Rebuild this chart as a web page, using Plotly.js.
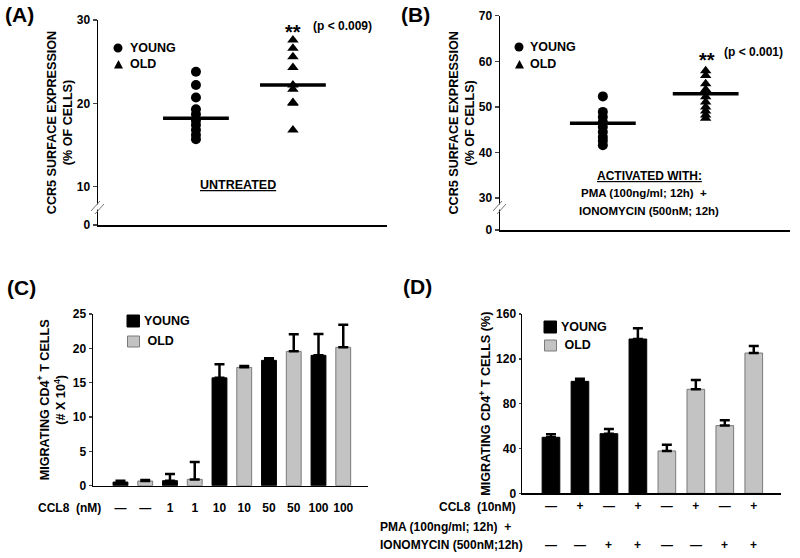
<!DOCTYPE html>
<html><head><meta charset="utf-8">
<script src="https://cdn.plot.ly/plotly-3.0.1.min.js"></script>
<style>html,body{margin:0;padding:0;background:#fff}</style>
</head><body><div id="chart" style="width:800px;height:558px"></div>
<script>
// ---------- DATA ----------
const groupsAB = ['YOUNG', 'OLD'];
// Panel A (untreated) CCR5 surface expression, % of cells
const youngA = [23.8, 22.2, 20.7, 19.3, 18.7, 17.9, 17.4, 16.8, 16.2, 15.7];
const oldA = [27.6, 26.6, 25.6, 24.3, 22.2, 21.7, 20.1, 20.0, 16.8];
const medianA = [18.2, 22.2];
const yTickLabelsA = ['0', '10', '20', '30'];
// Panel B (PMA + ionomycin)
const youngB = [52.3, 48.9, 47.8, 46.7, 45.6, 44.5, 43.4, 42.6, 41.6];
const oldB = [57.9, 56.9, 55.1, 53.8, 52.2, 51.1, 50.0, 49.1, 48.2, 47.5];
const medianB = [46.4, 52.9];
const yTickLabelsB = ['0', '30', '40', '50', '60', '70'];
// Panel C migration (# x 10^4)
const ccl8Labels = ['—', '—', '1', '1', '10', '10', '50', '50', '100', '100'];
const youngC = [0.53, 0.73, 15.7, 18.25, 18.98];
const youngCErr = [0.2, 0.97, 2.0, 0.3, 3.1];
const oldC = [0.68, 0.92, 17.23, 19.56, 20.15];
const oldCErr = [0.15, 2.53, 0.2, 2.48, 3.3];
// Panel D migration (%)
const ccl8Signs = ['—', '+', '—', '+', '—', '+', '—', '+'];
const pmaSigns = ['—', '—', '+', '+', '—', '—', '+', '+'];
const youngD = [50.0, 99.9, 53.2, 137.7];
const youngDErr = [2.6, 2.4, 4.2, 9.5];
const oldD = [37.8, 92.8, 60.4, 125.2];
const oldDErr = [5.6, 8.3, 4.7, 6.3];

// ---------- LAYOUT HELPERS ----------
const W = 800, H = 558;
const px = x => x / W;
const py = y => 1 - y / H;
const FONT = 'Liberation Sans, Arial, Helvetica, sans-serif';
const GRAY = '#c3c3c3', GRAYLINE = '#7a7a7a';
const breakA = 5.4, breakB = 23.0;

const zerosLike = a => a.map(() => 0);
const scatterGroup = (vals, name, symbol, xa, ya) => ({
  type: 'scatter', mode: 'markers', x: vals.map(() => name), y: vals,
  xaxis: xa, yaxis: ya, showlegend: false,
  marker: {symbol: symbol, size: 10, color: 'black'}
});
const medianTrace = (med, xa, ya) => ({
  type: 'scatter', mode: 'markers', x: groupsAB, y: med, xaxis: xa, yaxis: ya, showlegend: false,
  marker: {symbol: 'line-ew', size: 47, color: 'black', line: {width: 3.5, color: 'black'}}
});
const barTrace = (xs, vals, errs, color, line, xa, ya, width) => ({
  type: 'bar', x: xs, y: vals, xaxis: xa, yaxis: ya, width: width, showlegend: false,
  marker: {color: color, line: {color: line, width: 1}},
  error_y: {type: 'data', symmetric: false, array: errs, arrayminus: zerosLike(errs),
            color: 'black', thickness: 2.5, width: 5}
});

const traces = [
  scatterGroup(youngA, 'YOUNG', 'circle', 'x', 'y'),
  scatterGroup(oldA, 'OLD', 'triangle-up', 'x', 'y'),
  medianTrace(medianA, 'x', 'y'),
  scatterGroup(youngB, 'YOUNG', 'circle', 'x2', 'y2'),
  scatterGroup(oldB, 'OLD', 'triangle-up', 'x2', 'y2'),
  medianTrace(medianB, 'x2', 'y2'),
  barTrace(youngC.map((_, i) => 2 * i), youngC, youngCErr, 'black', 'black', 'x3', 'y3', 0.6),
  barTrace(oldC.map((_, i) => 2 * i + 1), oldC, oldCErr, GRAY, GRAYLINE, 'x3', 'y3', 0.6),
  barTrace(youngD.map((_, i) => i), youngD, youngDErr, 'black', 'black', 'x4', 'y4', 0.61),
  barTrace(oldD.map((_, i) => youngD.length + i), oldD, oldDErr, GRAY, GRAYLINE, 'x4', 'y4', 0.61)
];

const axBase = {showline: true, linecolor: 'black', linewidth: 1.5, zeroline: false, showgrid: false,
                fixedrange: true};
const yTitleFont = {family: FONT, size: 12.6, weight: 'bold', color: 'black'};
const tickFontY = {family: FONT, size: 12, weight: 'bold', color: 'black'};
const tickFontX = {family: FONT, size: 12, weight: 'bold', color: 'black'};

const ann = (text, x, y, size, xanchor, extra) => Object.assign({
  text: text, x: x, y: y, xref: 'paper', yref: 'paper', showarrow: false,
  xanchor: xanchor || 'center', yanchor: 'middle',
  font: {family: FONT, size: size, weight: 'bold', color: 'black'}
}, extra || {});

const annotations = [
  ann('(A)', px(3), py(15), 21, 'left'),
  ann('(B)', px(399), py(15), 21, 'left'),
  ann('(C)', px(5), py(287), 21, 'left'),
  ann('(D)', px(401), py(286), 21, 'left'),
  // A legend + labels
  ann('YOUNG', px(128), py(48), 12.5, 'left'),
  ann('OLD', px(128), py(64), 12.5, 'left'),
  ann('**', px(293), py(32), 20),
  ann('(p &lt; 0.009)', px(311), py(26), 12, 'left'),
  ann('<u>UNTREATED</u>', px(237.5), py(185), 12.5),
  // B legend + labels
  ann('YOUNG', px(528), py(47), 12.5, 'left'),
  ann('OLD', px(528), py(64), 12.5, 'left'),
  ann('**', px(707), py(60), 20),
  ann('(p &lt; 0.001)', px(722), py(52), 12, 'left'),
  ann('<u>ACTIVATED WITH:</u>', px(649), py(176), 12),
  ann('PMA (100ng/ml; 12h)\u00a0\u00a0+', px(644), py(193), 11.5),
  ann('IONOMYCIN (500nM; 12h)', px(649), py(211), 11.5),
  // C
  ann('YOUNG', px(142), py(321), 12.5, 'left'),
  ann('\u00a0OLD', px(142), py(341), 12.5, 'left'),
  ann('CCL8\u00a0\u00a0(nM)', px(103), py(508), 12, 'right'),
  // D
  ann('YOUNG', px(559), py(327), 12.5, 'left'),
  ann('\u00a0OLD', px(559), py(345), 12.5, 'left'),
  ann('CCL8\u00a0\u00a0(10nM)', px(518), py(507), 12, 'right'),
  ann('PMA (100ng/ml; 12h)\u00a0\u00a0+', px(378), py(527), 12, 'left'),
  ann('IONOMYCIN (500nM;12h)', px(378), py(545), 12, 'left')
];
pmaSigns.forEach((s, i) => annotations.push(Object.assign(ann(s, i, py(545), 12), {xref: 'x4'})));

const line = (x0, y0, x1, y1, color, width) => ({type: 'line', xref: 'paper', yref: 'paper',
  x0: px(x0), y0: py(y0), x1: px(x1), y1: py(y1), line: {color: color, width: width}});
const rect = (x0, y0, x1, y1, fill, lc) => ({type: 'rect', xref: 'paper', yref: 'paper',
  x0: px(x0), y0: py(y0), x1: px(x1), y1: py(y1), fillcolor: fill, line: {color: lc, width: 1}});
const circle = (cx, cy, r) => ({type: 'circle', xref: 'paper', yref: 'paper',
  x0: px(cx - r), x1: px(cx + r), y0: py(cy + r), y1: py(cy - r), fillcolor: 'black', line: {width: 0}});
const tri = (cx, cy, s) => ({type: 'path', xref: 'paper', yref: 'paper',
  path: `M ${px(cx - s / 2)} ${py(cy + s * 0.45)} L ${px(cx + s / 2)} ${py(cy + s * 0.45)} L ${px(cx)} ${py(cy - s * 0.5)} Z`,
  fillcolor: 'black', line: {width: 0}});

const shapes = [
  // axis break marks
  rect(95.5, 205, 100.5, 209, 'white', 'white'),
  line(91, 211, 100, 201, '#777', 1), line(95, 214, 104, 204, '#777', 1),
  rect(497.5, 205, 502.5, 209, 'white', 'white'),
  line(493, 211, 502, 201, '#777', 1), line(497, 214, 506, 204, '#777', 1),
  // legend glyphs A / B
  circle(118, 48, 4.5), tri(118.5, 64.5, 9),
  circle(519, 47, 4.5), tri(519.5, 64.5, 9),
  // legend squares C / D
  rect(127, 315, 139.5, 327, 'black', 'black'),
  rect(127.5, 336, 139.5, 347, GRAY, GRAYLINE),
  rect(544, 321, 556.5, 333, 'black', 'black'),
  rect(544.5, 340, 556.5, 351, GRAY, GRAYLINE)
];

const layout = {
  width: W, height: H, autosize: false,
  margin: {l: 0, r: 0, t: 0, b: 0, pad: 0},
  paper_bgcolor: 'white', plot_bgcolor: 'white',
  font: {family: FONT, size: 12, weight: 'bold', color: 'black'},
  showlegend: false, barmode: 'overlay',
  xaxis: Object.assign({}, axBase, {domain: [px(98), px(387)], anchor: 'y', type: 'category',
    categoryorder: 'array', categoryarray: groupsAB, range: [-1.01, 1.97], showticklabels: false, ticks: ''}),
  yaxis: Object.assign({}, axBase, {domain: [py(225), py(20)], anchor: 'x', range: [breakA, 30],
    tickvals: [breakA, 10, 20, 30], ticktext: yTickLabelsA, ticks: 'outside', ticklen: 4, tickwidth: 1.5,
    tickfont: tickFontY, title: {text: 'CCR5 SURFACE EXPRESSION<br>(% OF CELLS)', font: yTitleFont, standoff: 1}}),
  xaxis2: Object.assign({}, axBase, {domain: [px(500), px(790)], anchor: 'y2', type: 'category',
    categoryorder: 'array', categoryarray: groupsAB, range: [-1.0, 1.82], showticklabels: false, ticks: ''}),
  yaxis2: Object.assign({}, axBase, {domain: [py(230), py(15.7)], anchor: 'x2', range: [breakB, 70],
    tickvals: [breakB, 30, 40, 50, 60, 70], ticktext: yTickLabelsB, ticks: 'outside', ticklen: 4, tickwidth: 1.5,
    tickfont: tickFontY, title: {text: 'CCR5 SURFACE EXPRESSION<br>(% OF CELLS)', font: yTitleFont, standoff: 1}}),
  xaxis3: Object.assign({}, axBase, {domain: [px(93), px(368)], anchor: 'y3', range: [-1.11, 10.0],
    tickvals: ccl8Labels.map((_, i) => i), ticktext: ccl8Labels, ticks: '', tickfont: tickFontX,
    ticklabelstandoff: 10}),
  yaxis3: Object.assign({}, axBase, {domain: [py(485.7), py(314)], anchor: 'x3', range: [0, 25],
    dtick: 5, ticks: 'outside', ticklen: 3, tickwidth: 1.5, tickfont: tickFontY,
    title: {text: 'MIGRATING CD4<sup>+</sup> T CELLS<br>(# X 10<sup>4</sup>)', font: yTitleFont, standoff: 4}}),
  xaxis4: Object.assign({}, axBase, {domain: [px(522), px(781)], anchor: 'y4', range: [-1.0, 7.94],
    tickvals: ccl8Signs.map((_, i) => i), ticktext: ccl8Signs, ticks: '', tickfont: tickFontX,
    ticklabelstandoff: 1}),
  yaxis4: Object.assign({}, axBase, {domain: [py(493.3), py(314)], anchor: 'x4', range: [0, 160],
    dtick: 40, ticks: 'outside', ticklen: 2, tickwidth: 1.5, tickfont: tickFontY,
    title: {text: 'MIGRATING CD4<sup>+</sup> T CELLS (%)', font: yTitleFont, standoff: 2}}),
  annotations: annotations,
  shapes: shapes
};

Plotly.newPlot('chart', traces, layout, {staticPlot: true, displayModeBar: false});
</script></body></html>
